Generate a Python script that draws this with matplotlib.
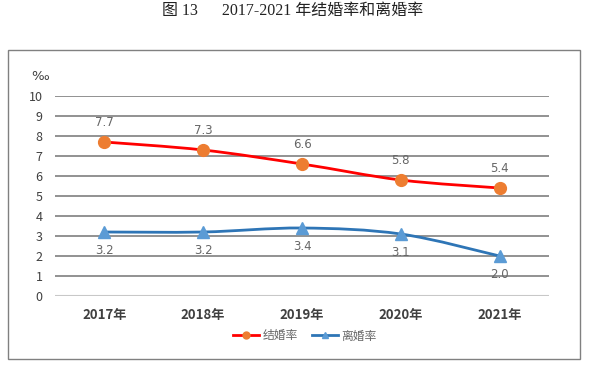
import matplotlib.pyplot as plt
import numpy as np
from matplotlib.path import Path
from matplotlib.patches import PathPatch, Rectangle
from matplotlib.lines import Line2D

plt.rcParams['font.family'] = ['Noto Sans CJK SC', 'DejaVu Sans']

years = ['2017年', '2018年', '2019年', '2020年', '2021年']
marriage = [7.7, 7.3, 6.6, 5.8, 5.4]
divorce = [3.2, 3.2, 3.4, 3.1, 2.0]
names = ['结婚率', '离婚率']
title = '图 13      2017-2021 年结婚率和离婚率'

RED = '#ff0000'
ORANGE = '#ed7d31'
BLUE = '#2e75b6'
LBLUE = '#5b9bd5'
GRID = '#7f7f7f'


def smooth_path(xs, ys):
    # excel-like smoothed line: cubic bezier segments
    pts = np.column_stack([xs, ys]).astype(float)
    n = len(pts)
    verts = [pts[0]]
    codes = [Path.MOVETO]
    for i in range(n - 1):
        p0 = pts[i - 1] if i > 0 else pts[i]
        p1 = pts[i]
        p2 = pts[i + 1]
        p3 = pts[i + 2] if i + 2 < n else pts[i + 1]
        c1 = p1 + (p2 - p0) / 6
        c2 = p2 - (p3 - p1) / 6
        verts += [c1, c2, p2]
        codes += [Path.CURVE4] * 3
    return Path(verts, codes)


fig = plt.figure(figsize=(5.93, 3.69), dpi=100)
ax = fig.add_axes([55 / 593, 1 - 296 / 369, 494 / 593, 200 / 369])

x = np.arange(len(years))

ax.add_patch(PathPatch(smooth_path(x, marriage), fill=False, edgecolor=RED, lw=2.0, zorder=3))
ax.plot(x, marriage, 'o', color=ORANGE, ms=8.5, zorder=4)
ax.add_patch(PathPatch(smooth_path(x, divorce), fill=False, edgecolor=BLUE, lw=2.0, zorder=3))
ax.plot(x, divorce, '^', color=LBLUE, ms=8.5, zorder=4)

for xi, v in zip(x, marriage):
    ax.annotate('%.1f' % v, (xi, v), xytext=(0, 14), textcoords='offset points',
                ha='center', va='center', fontsize=8.5, color='#666666', family=['DejaVu Sans'])
for xi, v in zip(x, divorce):
    ax.annotate('%.1f' % v, (xi, v), xytext=(0, -13), textcoords='offset points',
                ha='center', va='center', fontsize=8.5, color='#666666', family=['DejaVu Sans'])

ax.set_xlim(-0.5, 4.5)
ax.set_ylim(0, 10)
ax.set_yticks(range(0, 11))
ax.set_xticks(x)
ax.set_xticklabels(years, fontweight='bold', fontsize=9.5, color='#404040')
ax.tick_params(axis='y', length=0, pad=9, labelsize=9, labelcolor='#404040')
ax.tick_params(axis='x', length=0, pad=9)
for v in range(1, 11):
    ax.axhline(v, color=GRID, lw=1.2, zorder=1)
ax.axhline(0, color='#c8c8c8', lw=1.5, zorder=1)
for s in ax.spines.values():
    s.set_visible(False)

fig.text(40 / 593, 1 - 76 / 369, '‰', ha='center', va='center', fontsize=9.5, color='#404040',
         family=['DejaVu Sans'])
fig.text(293 / 593, 1 - 11 / 369, title, ha='center', va='center', fontsize=11.5, color='#222222',
         family=['Liberation Serif', 'Noto Sans CJK SC'])

fig.patches.append(Rectangle((8 / 593, 1 - 359 / 369), 572 / 593, 309 / 369, transform=fig.transFigure,
                             fill=False, edgecolor='#808080', lw=1.0))

handles = [Line2D([], [], color=RED, lw=2, marker='o', mfc=ORANGE, mec=ORANGE, ms=5),
           Line2D([], [], color=BLUE, lw=2, marker='^', mfc=LBLUE, mec=LBLUE, ms=5)]
fig.legend(handles, names, loc='center', bbox_to_anchor=(305 / 593, 1 - 336 / 369), ncol=2,
           frameon=False, fontsize=8.5, labelcolor='#666666', handlelength=2.2, handletextpad=0.3,
           columnspacing=1.2)

fig.savefig('out.png', dpi=100)
